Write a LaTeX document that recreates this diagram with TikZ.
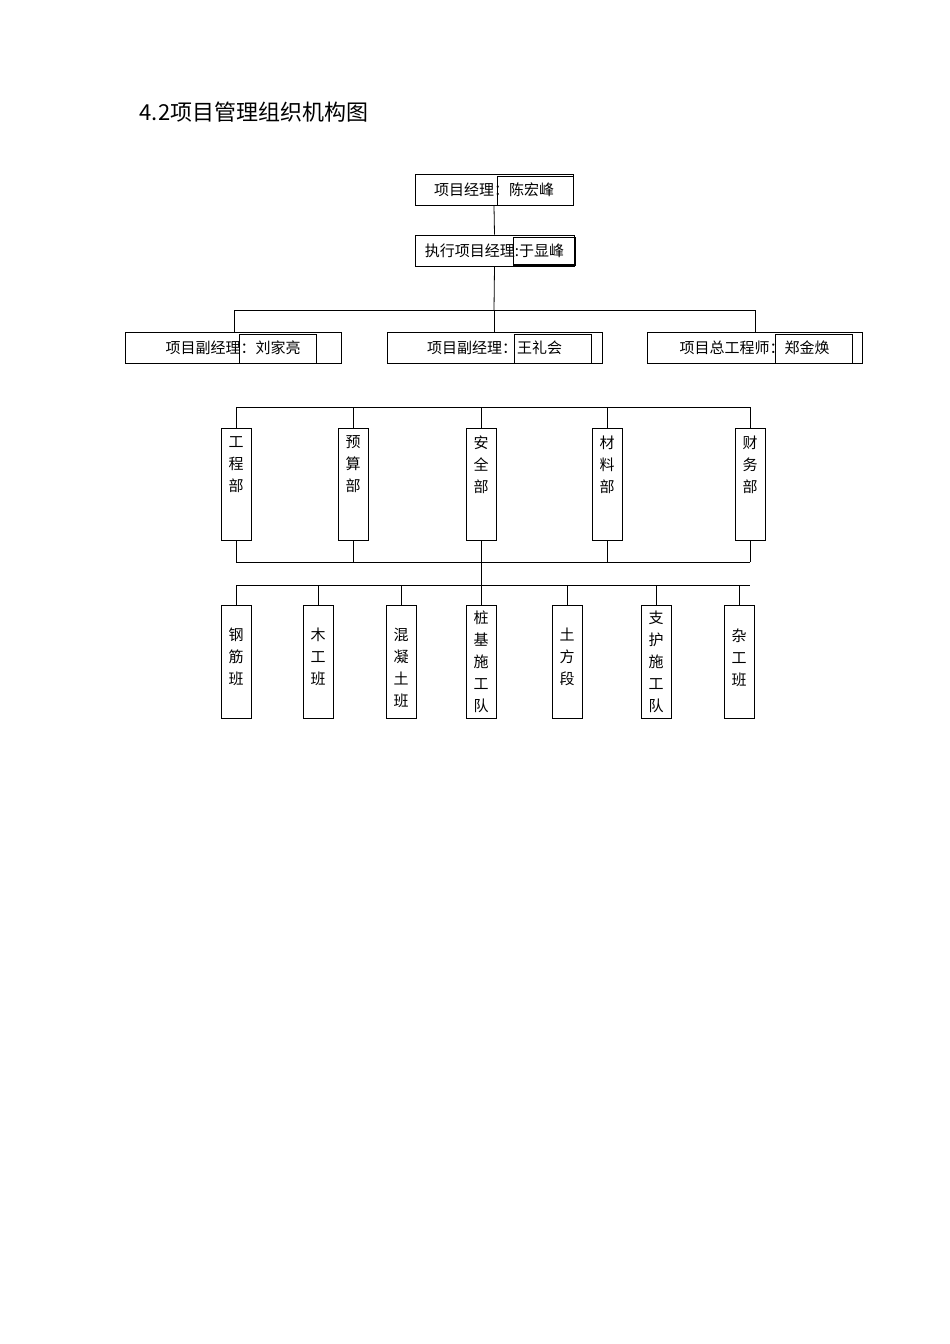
\documentclass[tikz,border=0pt]{standalone}
\usepackage{fontspec}
\newfontfamily\cjk{Noto Sans CJK SC}
\begin{document}
\begin{tikzpicture}[x=1pt,y=-1pt,line width=0.8pt,
  hb/.style={draw,minimum height=31pt,inner sep=0pt,font=\cjk\fontsize{15}{18}\selectfont},
  ib/.style={draw,minimum height=29pt,inner sep=0pt},
  vb/.style={draw,minimum width=30pt,inner sep=0pt,align=center,font=\cjk\fontsize{15}{22}\selectfont}]
\useasboundingbox (0,0) rectangle (950,1344);
\node[anchor=west,font=\cjk\fontsize{22}{26}\selectfont] (title) at (136,112) {4.2项目管理组织机构图};
% top boxes
\node[hb,minimum width=158pt] (pm) at (494,190) {项目经理：陈宏峰};
\draw (497,176) rectangle (573,205);
\node[hb,minimum width=159pt] (epm) at (494.5,250.5) {执行项目经理:于显峰};
\draw (513,237) rectangle (575,265);
\draw[line width=1.6pt] (513,265) -- (575,265);
\node[hb,minimum width=216pt] (d1) at (233,347.5) {项目副经理：刘家亮};
\draw (239,334) rectangle (316,363);
\node[hb,minimum width=215pt] (d2) at (494.5,347.5) {项目副经理：王礼会};
\draw (514,334) rectangle (591,363);
\node[hb,minimum width=215pt] (d3) at (754.5,347.5) {项目总工程师：郑金焕};
\draw (775,334) rectangle (852,363);
\draw (pm.south) -- (epm.north);
\draw (epm.south) -- (494,310);
\draw (234,310) -- (755,310);
\draw (234,310) -- (234,332);
\draw (494,310) -- (494,332);
\draw (755,310) -- (755,332);
% departments
\foreach \n/\x/\t in {a/236/工\\程\\部, b/353/预\\算\\部, c/481/安\\全\\部, d/607/材\\料\\部, e/750/财\\务\\部}{
  \node[vb,minimum height=112pt] (\n) at (\x,484) {\t\\[18pt]};
  \draw (\x,407) -- (\n.north);
  \draw (\n.south) -- (\x,562);
}
\draw (236,407) -- (750,407);
\draw (236,562) -- (750,562);
% teams
\foreach \n/\x/\t in {t1/236/钢\\筋\\班, t2/318/木\\工\\班, t3/401/混\\凝\\土\\班, t5/567/土\\方\\段, t7/739/杂\\工\\班}{
  \node[vb,minimum height=113pt,anchor=north] (\n) at (\x,605) {};
  \node[align=center,anchor=north,inner sep=0pt,font=\cjk\fontsize{15}{22}\selectfont] at (\x,628) {\t};
  \draw (\x,585) -- (\n.north);
}
\foreach \n/\x/\t in {t4/481/桩\\基\\施\\工\\队, t6/656/支\\护\\施\\工\\队}{
  \node[vb,minimum height=113pt,anchor=north] (\n) at (\x,605) {};
  \node[align=center,anchor=north,inner sep=0pt,font=\cjk\fontsize{15}{22}\selectfont] at (\x,610) {\t};
  \draw (\x,585) -- (\n.north);
}
\draw (c.south) -- (t4.north);
\draw (236,585) -- (750,585);
\end{tikzpicture}
\end{document}
